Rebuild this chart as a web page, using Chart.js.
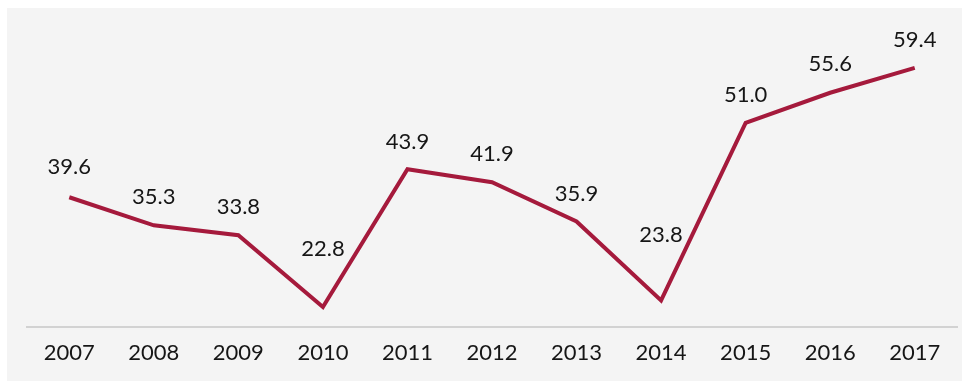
<!DOCTYPE html>
<html>
<head>
<meta charset="utf-8">
<script src="https://cdn.jsdelivr.net/npm/chart.js@4.4.1/dist/chart.umd.min.js"></script>
<style>
  html, body { margin: 0; padding: 0; background: #ffffff; }
  #panel { position: absolute; left: 7px; top: 8px; width: 955px; height: 373px; background: #f4f4f4; }
  canvas { display: block; }
</style>
</head>
<body>
<div id="panel"><canvas id="linechart" width="955" height="373"></canvas></div>
<script>
const years = ['2007', '2008', '2009', '2010', '2011', '2012', '2013', '2014', '2015', '2016', '2017'];
const values = [39.6, 35.3, 33.8, 22.8, 43.9, 41.9, 35.9, 23.8, 51.0, 55.6, 59.4];

// how far above each point its value label sits
const labelLift = [30, 28, 28, 58, 27, 28, 28, 66, 28, 29, 28];

const valueLabels = {
	id: 'valueLabels',
	afterDatasetsDraw(chart) {
		const ctx = chart.ctx;
		const meta = chart.getDatasetMeta(0);
		ctx.save();
		ctx.font = '22px Lato';
		ctx.fillStyle = '#161616';
		ctx.textAlign = 'center';
		ctx.textBaseline = 'middle';
		meta.data.forEach((pt, i) => {
			ctx.fillText(values[i].toFixed(1), pt.x, pt.y - labelLift[i]);
		});
		ctx.restore();
	}
};

new Chart(document.getElementById("linechart"), {
	type: 'line',
	data: {
		labels: years,
		datasets: [{
			data: values,
			borderColor: "#a51a3c",
			borderWidth: 4,
			pointRadius: 0,
			tension: 0,
			fill: false
		}]
	},
	options: {
		responsive: false,
		animation: false,
		devicePixelRatio: 1,
		layout: {
			padding: { top: 56, left: 20, right: 5, bottom: 2 }
		},
		plugins: {
			legend: { display: false },
			tooltip: { enabled: false }
		},
		scales: {
			x: {
				offset: true,
				grid: { display: false, drawTicks: false },
				border: { display: true, color: '#d2d2d2', width: 2 },
				ticks: {
					padding: 13,
					color: '#161616',
					font: { family: 'Lato', size: 22 }
				}
			},
			y: {
				display: false,
				min: 19.8,
				max: 60
			}
		}
	},
	plugins: [valueLabels]
});
</script>
</body>
</html>
